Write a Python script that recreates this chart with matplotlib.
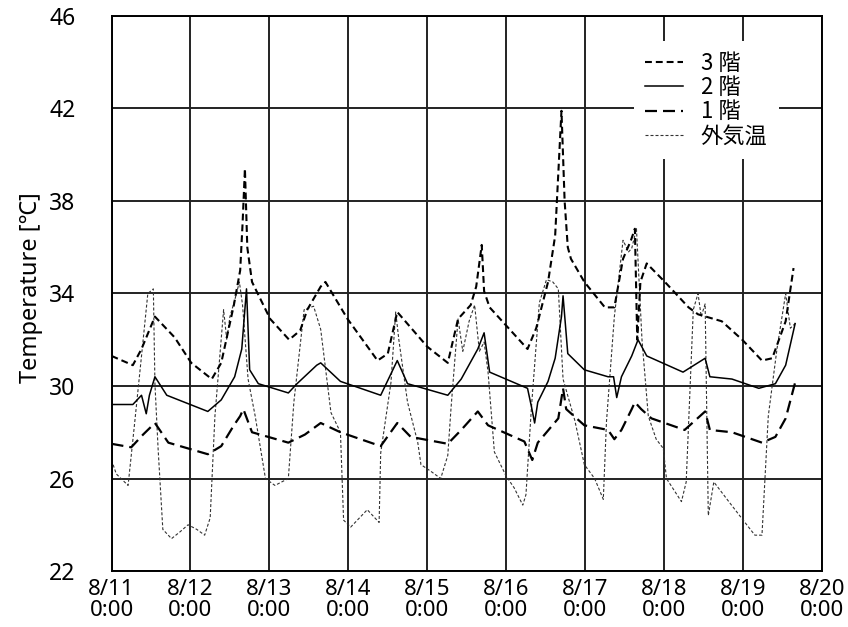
import numpy as np
import matplotlib
matplotlib.use("Agg")
import matplotlib.pyplot as plt

# time in days from 8/11 0:00, temperatures
t3 = [0.00, 0.27, 0.38, 0.55, 0.80, 1.01, 1.27, 1.39, 1.55, 1.63, 1.66, 1.69, 1.72, 1.78,
      2.01, 2.25, 2.39, 2.48, 2.65, 2.71, 2.99, 3.37, 3.50, 3.62, 4.00, 4.26, 4.39, 4.55,
      4.62, 4.69, 4.72, 4.79, 5.27, 5.38, 5.53, 5.62, 5.70, 5.74, 5.78, 5.82, 5.99, 6.25,
      6.37, 6.48, 6.58, 6.63, 6.66, 6.70, 6.78, 7.01, 7.31, 7.43, 7.73, 7.99, 8.24, 8.37,
      8.54, 8.64]
v3 = [31.3, 30.9, 31.6, 33.0, 32.1, 31.0, 30.3, 31.0, 33.5, 35.0, 37.0, 39.4, 36.0, 34.5,
      32.9, 32.0, 32.4, 33.3, 34.3, 34.5, 32.9, 31.1, 31.4, 33.2, 31.7, 31.0, 32.9, 33.5,
      34.3, 36.1, 34.1, 33.4, 31.6, 32.5, 34.5, 36.5, 41.9, 38.0, 36.0, 35.5, 34.5, 33.4,
      33.4, 35.5, 36.3, 36.8, 32.0, 34.5, 35.3, 34.5, 33.4, 33.1, 32.8, 32.0, 31.1, 31.2,
      32.8, 35.1]

t2 = [0.00, 0.27, 0.38, 0.44, 0.48, 0.55, 0.70, 1.22, 1.39, 1.56, 1.65, 1.71, 1.75, 1.86,
      2.24, 2.35, 2.60, 2.65, 2.90, 3.41, 3.62, 3.75, 4.26, 4.43, 4.64, 4.72, 4.79, 5.27,
      5.32, 5.36, 5.40, 5.53, 5.62, 5.70, 5.72, 5.78, 5.99, 6.29, 6.36, 6.40, 6.46, 6.59,
      6.67, 6.78, 7.24, 7.52, 7.58, 7.86, 8.20, 8.41, 8.54, 8.66]
v2 = [29.2, 29.2, 29.6, 28.8, 29.6, 30.4, 29.6, 28.9, 29.4, 30.4, 31.6, 34.2, 30.7, 30.1,
      29.7, 30.1, 30.9, 31.0, 30.2, 29.6, 31.1, 30.1, 29.6, 30.3, 31.6, 32.3, 30.6, 29.9,
      29.1, 28.4, 29.3, 30.2, 31.2, 33.0, 33.9, 31.4, 30.7, 30.4, 30.4, 29.5, 30.4, 31.3,
      32.0, 31.3, 30.6, 31.2, 30.4, 30.3, 29.9, 30.1, 30.9, 32.7]

t1 = [0.00, 0.25, 0.40, 0.55, 0.72, 1.22, 1.39, 1.55, 1.63, 1.67, 1.78, 2.24, 2.45, 2.65,
      2.90, 3.41, 3.62, 3.79, 4.26, 4.43, 4.64, 4.77, 5.23, 5.33, 5.40, 5.66, 5.72, 5.76,
      5.99, 6.29, 6.37, 6.46, 6.59, 6.63, 6.71, 6.84, 7.26, 7.52, 7.58, 7.86, 8.24, 8.41,
      8.54, 8.66]
v1 = [27.5, 27.35, 27.9, 28.4, 27.55, 27.05, 27.4, 28.3, 28.7, 29.0, 28.0, 27.55, 27.9, 28.4,
      28.0, 27.4, 28.4, 27.8, 27.5, 28.1, 28.9, 28.3, 27.6, 26.8, 27.55, 28.6, 29.9, 29.0,
      28.3, 28.1, 27.7, 28.1, 29.0, 29.3, 29.0, 28.6, 28.1, 28.9, 28.1, 28.0, 27.55, 27.8,
      28.6, 30.15]

to = [0.00, 0.06, 0.21, 0.29, 0.38, 0.46, 0.53, 0.55, 0.59, 0.65, 0.76, 0.87, 0.97, 1.08,
      1.18, 1.25, 1.31, 1.42, 1.46, 1.50, 1.56, 1.62, 1.66, 1.73, 1.82, 1.95, 2.07, 2.24,
      2.31, 2.44, 2.56, 2.65, 2.78, 2.90, 2.94, 3.03, 3.24, 3.39, 3.41, 3.54, 3.60, 3.64,
      3.75, 3.88, 3.92, 4.05, 4.17, 4.26, 4.30, 4.39, 4.45, 4.53, 4.60, 4.66, 4.72, 4.77,
      4.85, 5.00, 5.10, 5.21, 5.25, 5.32, 5.42, 5.51, 5.59, 5.66, 5.72, 5.87, 5.99, 6.12,
      6.23, 6.27, 6.37, 6.48, 6.55, 6.59, 6.65, 6.72, 6.80, 6.90, 6.99, 7.03, 7.22, 7.28,
      7.37, 7.43, 7.47, 7.52, 7.56, 7.63, 7.82, 7.99, 8.15, 8.24, 8.32, 8.43, 8.54, 8.60,
      8.66]
vo = [26.8, 26.2, 25.7, 28.3, 31.3, 34.0, 34.2, 30.1, 27.3, 23.8, 23.4, 23.7, 24.0, 23.8,
      23.55, 24.3, 28.7, 33.3, 32.0, 33.0, 33.7, 34.5, 33.5, 30.3, 28.7, 26.0, 25.7, 26.0,
      29.3, 33.3, 33.45, 32.45, 28.85, 28.0, 24.2, 23.9, 24.65, 24.1, 27.1, 30.15, 33.2, 32.0,
      29.3, 27.55, 26.6, 26.3, 26.0, 27.0, 29.0, 32.9, 31.5, 32.8, 33.5, 31.5, 31.9, 30.6,
      27.15, 26.1, 25.6, 24.85, 25.3, 29.1, 33.6, 34.6, 34.5, 34.2, 30.3, 28.5, 26.6, 26.0,
      25.1, 28.45, 33.0, 36.3, 35.8, 35.95, 36.8, 32.0, 28.7, 27.7, 27.3, 26.0, 25.0, 25.85,
      33.3, 34.0, 33.0, 33.55, 24.4, 25.85, 25.0, 24.25, 23.55, 23.55, 28.7, 31.6, 34.0, 32.5,
      32.7]

day_labels = ["8/11\n0:00", "8/12\n0:00", "8/13\n0:00", "8/14\n0:00", "8/15\n0:00",
              "8/16\n0:00", "8/17\n0:00", "8/18\n0:00", "8/19\n0:00", "8/20\n0:00"]
yticks = [22, 26, 30, 34, 38, 42, 46]

plt.rcParams['font.family'] = ['Noto Sans', 'DejaVu Sans']

fig = plt.figure(figsize=(8.48, 6.27), dpi=100)
ax = fig.add_axes([0.1315, 0.0893, 0.8378, 0.8852])

ax.plot(to, vo, color='#333333', lw=0.8, linestyle=(0, (2.7, 1.8)), label='外気温', zorder=2)
ax.plot(t1, v1, color='black', lw=1.6, linestyle=(0, (5.4, 2.7)), label='1 階', zorder=3)
ax.plot(t2, v2, color='black', lw=1.1, linestyle='-', label='2 階', zorder=3)
ax.plot(t3, v3, color='black', lw=1.5, linestyle=(0, (3.3, 1.9)), label='3 階', zorder=3)

ax.set_xlim(0, 9)
ax.set_ylim(22, 46)
ax.set_xticks(np.arange(10))
ax.set_xticklabels(day_labels, linespacing=1.0)
ax.set_yticks(yticks)
ax.tick_params(axis='y', length=0, pad=26, labelsize=16.5)
ax.tick_params(axis='x', length=0, pad=6, labelsize=16)
ax.grid(color='#222222', linewidth=1.4)
for s in ax.spines.values():
    s.set_linewidth(1.4)

ax.set_ylabel('Temperature [℃]', fontsize=17)
ax.yaxis.set_label_coords(-0.097, 0.51)

h, l = ax.get_legend_handles_labels()
order = [3, 2, 1, 0]
leg = ax.legend([h[i] for i in order], [l[i] for i in order], loc='upper left',
                bbox_to_anchor=(0.72, 0.975), frameon=True, fancybox=False,
                prop={'family': ['Noto Sans CJK JP', 'DejaVu Sans'], 'size': 16},
                handlelength=1.7, handletextpad=0.8, labelspacing=0.05, borderpad=0.5)
leg.get_frame().set_edgecolor('none')
leg.get_frame().set_facecolor('white')
leg.get_frame().set_alpha(1)

fig.savefig('out.png', dpi=100)
